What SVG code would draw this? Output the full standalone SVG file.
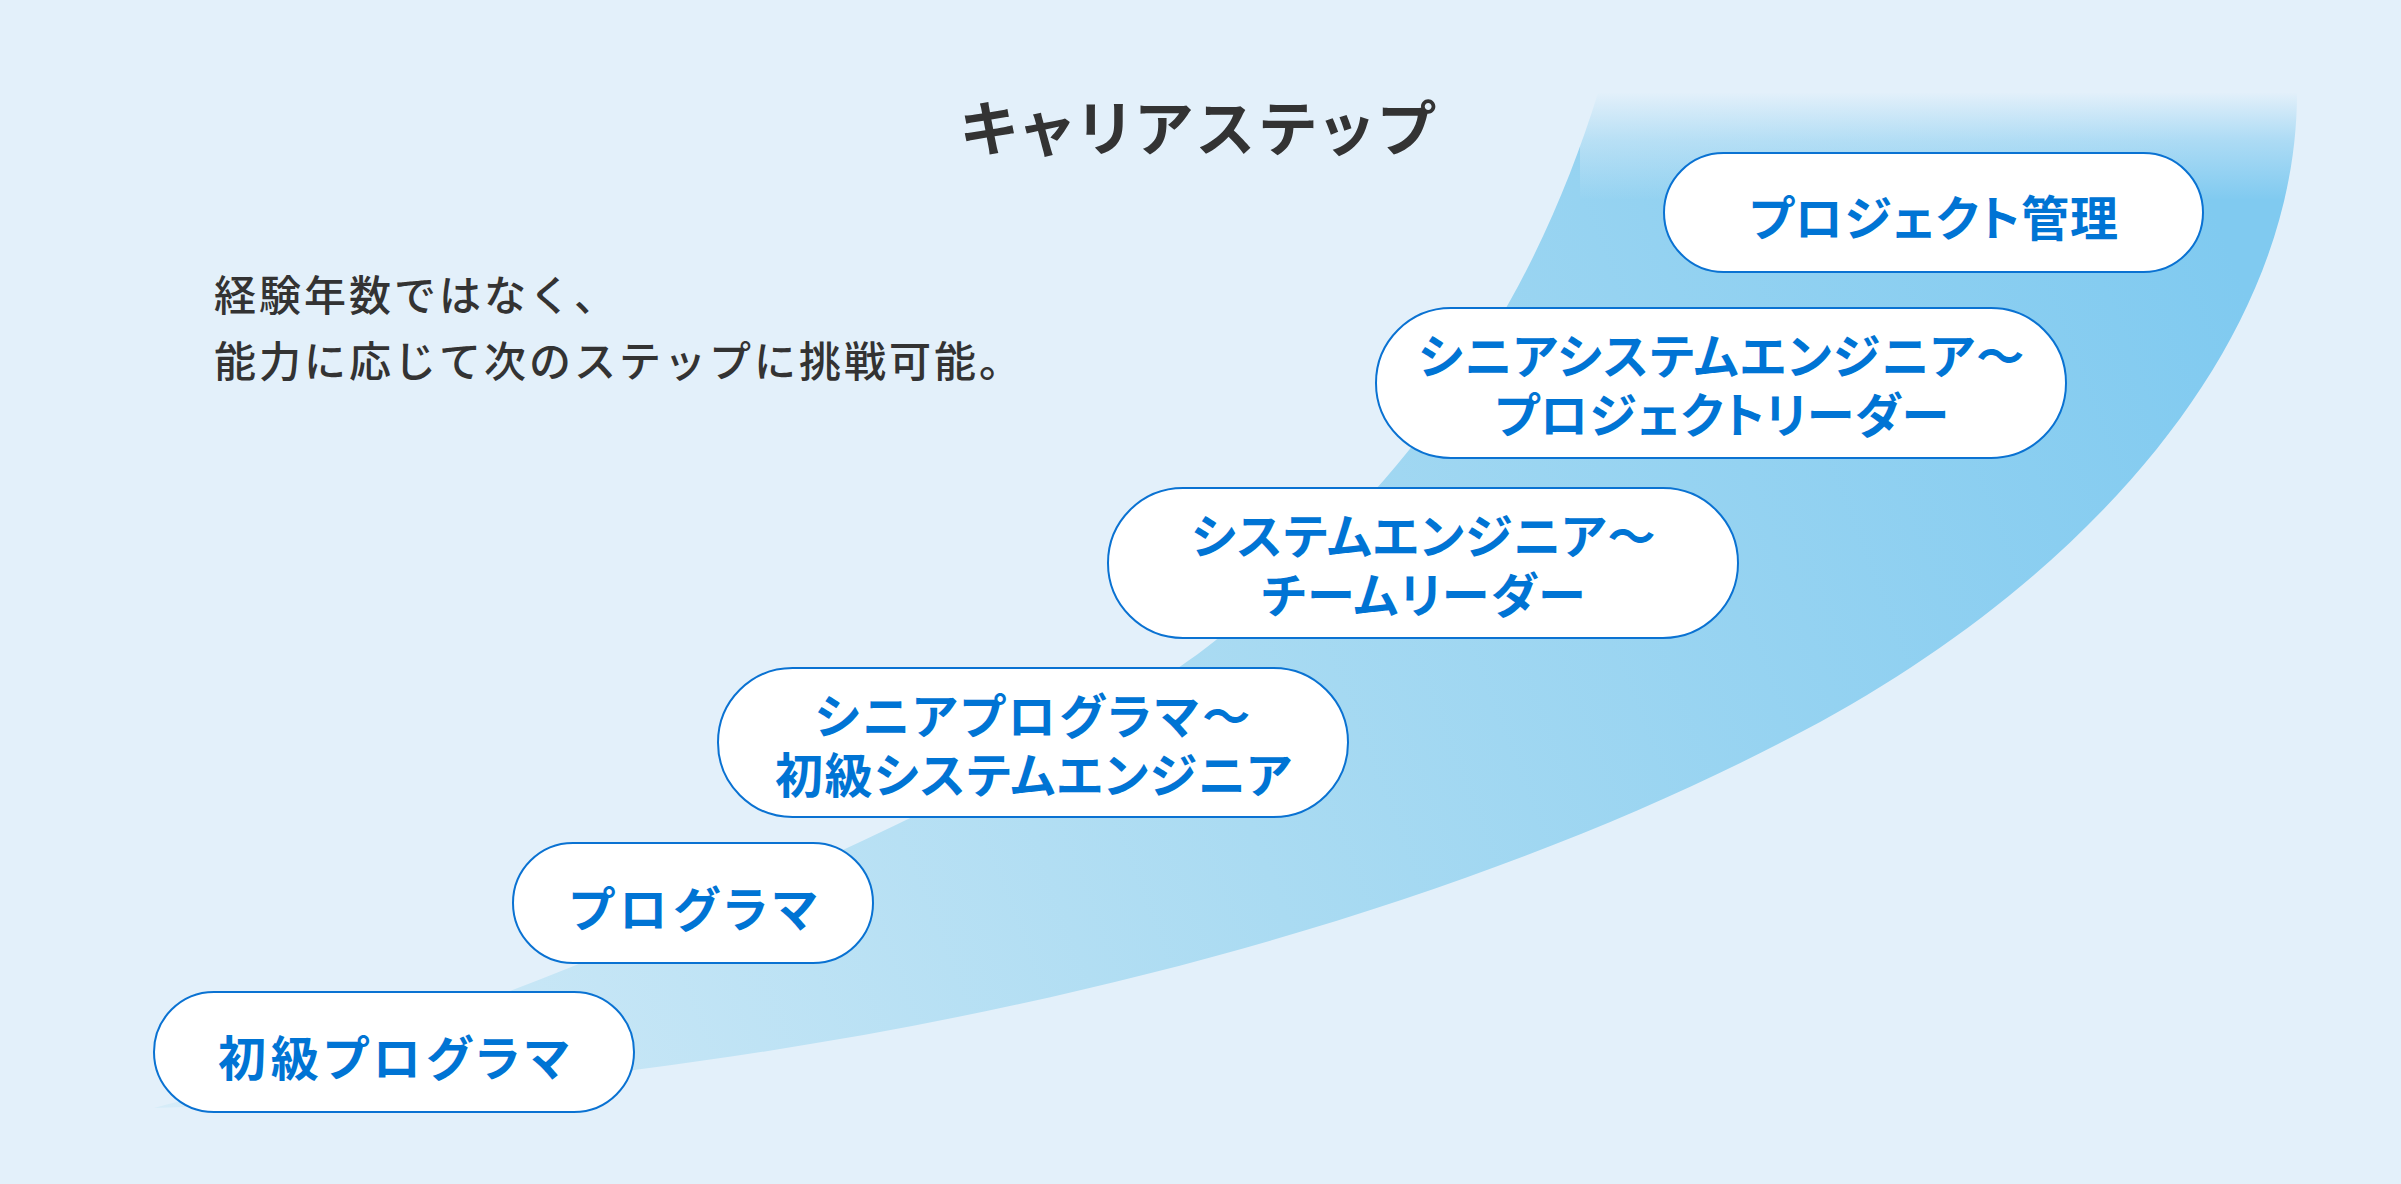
<svg xmlns="http://www.w3.org/2000/svg" width="2401" height="1184" viewBox="0 0 2401 1184">
<defs>
<linearGradient id="swoosh" gradientUnits="userSpaceOnUse" x1="154" y1="1108" x2="2250" y2="300">
<stop offset="0" stop-color="#d6ecf8"/>
<stop offset="0.5" stop-color="#aadbf2"/>
<stop offset="1" stop-color="#80caf0"/>
</linearGradient>
<linearGradient id="topfade" gradientUnits="userSpaceOnUse" x1="0" y1="92" x2="0" y2="200">
<stop offset="0" stop-color="#e3f0fa" stop-opacity="1"/>
<stop offset="0.45" stop-color="#e3f0fa" stop-opacity="0.45"/>
<stop offset="1" stop-color="#e3f0fa" stop-opacity="0"/>
</linearGradient>
<style>
.node rect{fill:#ffffff;stroke:#0a72d2;stroke-width:2}
.node text{fill:#0074d4;font-family:"Noto Sans CJK JP","Noto Sans",sans-serif;font-weight:700;font-size:48px;letter-spacing:3px;font-feature-settings:"palt";text-anchor:middle;dominant-baseline:central}
.title{fill:#333333;font-family:"Noto Sans CJK JP","Noto Sans",sans-serif;font-weight:700;font-size:60px;letter-spacing:6px;font-feature-settings:"palt";text-anchor:middle;dominant-baseline:central}
.body{fill:#333333;font-family:"Noto Sans CJK JP","Noto Sans",sans-serif;font-weight:500;font-size:42px;letter-spacing:3px;dominant-baseline:central}
</style>
</defs>
<rect x="0" y="0" width="2401" height="1184" fill="#e3f0fa"/>
<g id="swoosh-shape">
<path d="M1598,93 L2297,93 C2297,343 2087,580 1805,730 C1429,930 854,1085 154,1108 C454,1033 1028.5,790 1216,640 C1441,460 1542,273 1598,93 Z" fill="url(#swoosh)"/>
<rect x="1580" y="92" width="730" height="110" fill="url(#topfade)"/>
</g>
<text class="title" x="1200" y="124">キャリアステップ</text>
<text class="body" x="214" y="292">経験年数ではなく、</text>
<text class="body" x="214" y="358">能力に応じて次のステップに挑戦可能。</text>
<g id="connectors"></g>
<g id="node-pm" class="node">
<rect x="1664" y="153" width="539" height="119" rx="59.5"/>
<text x="1934" y="215" style="letter-spacing:1px">プロジェクト管理</text>
</g>
<g id="node-sse" class="node">
<rect x="1376" y="308" width="690" height="150" rx="75"/>
<text x="1722" y="353"><tspan x="1722" style="letter-spacing:1.5px">シニアシステムエンジニア〜</tspan><tspan x="1722" dy="59" style="letter-spacing:0.8px">プロジェクトリーダー</tspan></text>
</g>
<g id="node-se" class="node">
<rect x="1108" y="488" width="630" height="150" rx="75"/>
<text x="1424" y="533"><tspan x="1424" style="letter-spacing:1.2px">システムエンジニア〜</tspan><tspan x="1424" dy="59" style="letter-spacing:1.5px">チームリーダー</tspan></text>
</g>
<g id="node-sp" class="node">
<rect x="718" y="668" width="630" height="149" rx="74.5"/>
<text x="1034" y="713"><tspan x="1034" style="letter-spacing:3px">シニアプログラマ〜</tspan><tspan x="1034" dy="59" style="letter-spacing:1.5px">初級システムエンジニア</tspan></text>
</g>
<g id="node-p" class="node">
<rect x="513" y="843" width="360" height="120" rx="60"/>
<text x="696" y="906" style="letter-spacing:5.3px">プログラマ</text>
</g>
<g id="node-jp" class="node">
<rect x="154" y="992" width="480" height="120" rx="60"/>
<text x="396" y="1055" style="letter-spacing:4.7px">初級プログラマ</text>
</g>
</svg>
